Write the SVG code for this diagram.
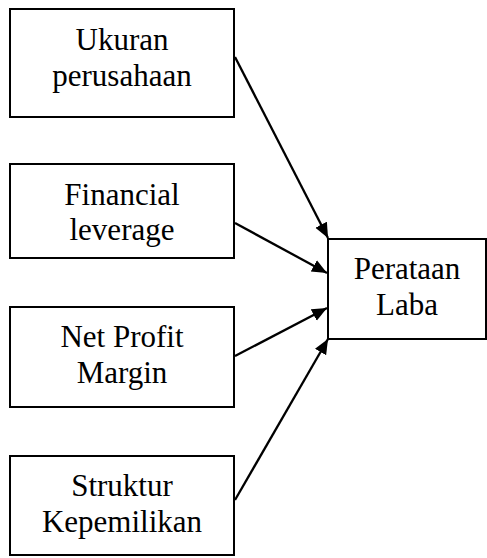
<svg xmlns="http://www.w3.org/2000/svg" width="487" height="558" viewBox="0 0 487 558">
<style>
.box{fill:#fff;stroke:#000;stroke-width:2}
.t{font-size:31px;fill:#000;text-anchor:middle}
.c{stroke:#000;stroke-width:2.3;fill:none}
</style>
<defs>
<marker id="ah" markerUnits="userSpaceOnUse" markerWidth="18" markerHeight="14" refX="15" refY="6.5" orient="auto">
<path d="M0,0 L15,6.5 L0,13 Z" fill="#000"/>
</marker>
</defs>
<rect width="487" height="558" fill="#fff"/>
<g font-family="'Liberation Serif', 'Times New Roman', serif">
<g id="ukuran">
<rect class="box" x="10" y="9" width="224" height="108"/>
<text class="t" x="122" y="50">Ukuran</text>
<text class="t" x="122" y="86">perusahaan</text>
</g>
<g id="financial">
<rect class="box" x="10" y="164" width="224" height="94"/>
<text class="t" x="122" y="205">Financial</text>
<text class="t" x="122" y="240">leverage</text>
</g>
<g id="npm">
<rect class="box" x="10" y="307" width="224" height="100"/>
<text class="t" x="122" y="347">Net Profit</text>
<text class="t" x="122" y="383">Margin</text>
</g>
<g id="struktur">
<rect class="box" x="10" y="456" width="224" height="99"/>
<text class="t" x="122" y="496">Struktur</text>
<text class="t" x="122" y="532">Kepemilikan</text>
</g>
<g id="perataan">
<rect class="box" x="328" y="239" width="158" height="100"/>
<text class="t" x="407" y="279">Perataan</text>
<text class="t" x="407" y="315">Laba</text>
</g>
</g>
<g id="connectors">
<line class="c" x1="235" y1="57" x2="328" y2="238" marker-end="url(#ah)"/>
<line class="c" x1="235" y1="223" x2="327" y2="273" marker-end="url(#ah)"/>
<line class="c" x1="235" y1="356" x2="327" y2="308" marker-end="url(#ah)"/>
<line class="c" x1="235" y1="500" x2="328" y2="339" marker-end="url(#ah)"/>
</g>
</svg>
